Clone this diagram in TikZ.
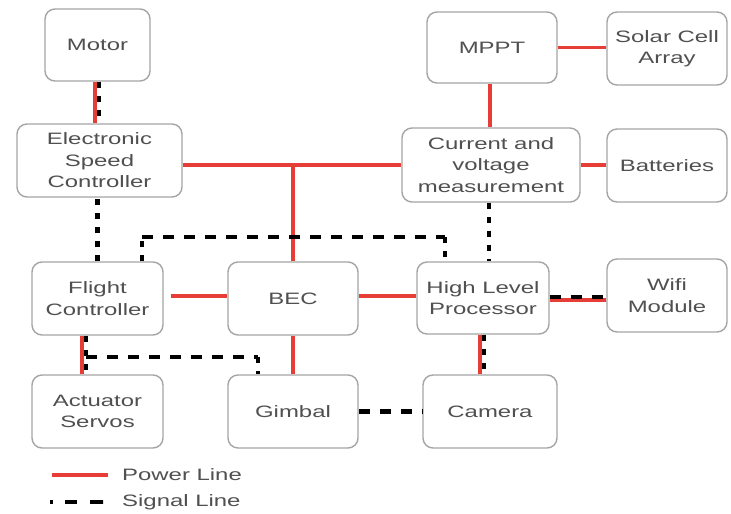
\documentclass[tikz,border=0pt]{standalone}
\usepackage{fontspec}
\setmainfont[FakeStretch=1.45]{Liberation Sans}
\usetikzlibrary{calc}
\definecolor{pwr}{RGB}{230,62,55}
\definecolor{txt}{RGB}{80,80,80}
\definecolor{brd}{RGB}{165,165,165}
\begin{document}
\begin{tikzpicture}[x=1pt,y=-1pt,
  blk/.style={draw=brd,line width=1.4pt,rounded corners=10pt,fill=white,
    text=txt,align=center,inner sep=0pt,
    font=\fontsize{16.5}{21.5}\selectfont},
  pline/.style={draw=pwr,line width=3.6pt},
  sigH/.style={draw=black,line width=4.3pt,dash pattern=on 11pt off 10pt},
  sigV/.style={draw=black,line width=4.8pt,dash pattern=on 6pt off 8pt},
  lgtxt/.style={text=txt,anchor=west,inner sep=0pt,font=\fontsize{16.5}{20}\selectfont}]
\useasboundingbox (0,0) rectangle (731,514);
\fill[white] (0,0) rectangle (731,514);
% blocks
\node[blk,minimum width=105pt,minimum height=72pt] (Motor) at (97.5,45) {Motor};
\node[blk,minimum width=165pt,minimum height=73pt] (ESC) at (99.5,160.5) {Electronic\\Speed\\Controller};
\node[blk,minimum width=130pt,minimum height=71pt] (MPPT) at (492,47.5) {MPPT};
\node[blk,minimum width=120pt,minimum height=73pt] (Solar) at (667,48.5) {Solar Cell\\Array};
\node[blk,minimum width=178pt,minimum height=74pt] (CV) at (491,165) {Current and\\voltage\\measurement};
\node[blk,minimum width=120pt,minimum height=73pt] (Bat) at (667,165.5) {Batteries};
\node[blk,minimum width=131pt,minimum height=73pt] (FC) at (97.5,298.5) {Flight\\Controller};
\node[blk,minimum width=130pt,minimum height=73pt] (BEC) at (293,298.5) {BEC};
\node[blk,minimum width=132pt,minimum height=72pt] (HLP) at (483,298) {High Level\\Processor};
\node[blk,minimum width=120pt,minimum height=73pt] (Wifi) at (667,295.5) {Wifi\\Module};
\node[blk,minimum width=131pt,minimum height=73pt] (Act) at (97.5,411.5) {Actuator\\Servos};
\node[blk,minimum width=130pt,minimum height=73pt] (Gim) at (293,411.5) {Gimbal};
\node[blk,minimum width=134pt,minimum height=73pt] (Cam) at (490,411.5) {Camera};
% helper coordinates
\coordinate (J) at (BEC.north |- CV.west);
\coordinate (L1) at ($(FC.north)+(44.5,0)$);
\coordinate (L2) at ($(L1)+(0,-24)$);
\coordinate (L4) at ($(HLP.north)+(-38,0)$);
\coordinate (L3) at (L4 |- L2);
\coordinate (G1) at ($(FC.south)+(-11.5,21)$);
\coordinate (G3) at ($(Gim.north)+(-35,0)$);
\coordinate (G2) at (G3 |- G1);
% power lines
\draw[pline] ($(Motor.south)+(-2.5,0)$) -- ($(ESC.north)+(-4.5,0)$);
\draw[pline] (CV.west) -- (CV.west -| ESC.east);
\draw[pline] (J) -- (BEC.north);
\draw[pline] (MPPT.east) -- (MPPT.east -| Solar.west);
\draw[pline] ($(MPPT.south)+(-2,0)$) -- ($(MPPT.south |- CV.north)+(-2,0)$);
\draw[pline] (CV.east) -- (CV.east -| Bat.west);
\draw[pline] ($(FC.east)+(7,-2.5)$) -- ($(BEC.west)+(0,-2.5)$);
\draw[pline] ($(BEC.east)+(0,-2.5)$) -- ($(HLP.west)+(0,-2)$);
\draw[pline] ($(HLP.east)+(0,2)$) -- ($(HLP.east -| Wifi.west)+(0,2)$);
\draw[pline] ($(HLP.south)+(-3,0)$) -- ($(HLP.south |- Cam.north)+(-3,0)$);
\draw[pline] (BEC.south) -- (Gim.north);
\draw[pline] ($(FC.south)+(-15.5,0)$) -- ($(Act.north)+(-15.5,0)$);
% signal lines
\draw[sigV] ($(Motor.south)+(1.5,0)$) -- ($(Motor.south |- ESC.north)+(1.5,0)$);
\draw[sigV] (FC.north) -- (FC.north |- ESC.south);
\draw[sigV] ($(CV.south)+(-2,0)$) -- ($(CV.south |- HLP.north)+(-2,0)$);
\draw[sigV] (L1) -- (L2);
\draw[sigH] (L2) -- (L3);
\draw[sigV] (L3) -- (L4);
\draw[sigH] ($(HLP.east)+(0,-1)$) -- ($(HLP.east -| Wifi.west)+(0,-1)$);
\draw[sigV] ($(HLP.south)+(1,0)$) -- ($(HLP.south |- Cam.north)+(1,0)$);
\draw[sigV] ($(FC.south)+(-11.5,0)$) -- ($(Act.north)+(-11.5,0)$);
\draw[sigH] (G1) -- (G2);
\draw[sigV] (G2) -- (G3);
\draw[sigH] (Gim.east) -- (Cam.west);
% legend
\coordinate (PA) at (52,475);
\coordinate (PB) at (108,475);
\coordinate (SA) at (50,502);
\coordinate (SB) at (103,502);
\draw[pline] (PA) -- (PB);
\draw[draw=black,line width=4.3pt,dash pattern=on 3pt off 12pt on 12pt off 13pt on 13pt off 0pt] (SA) -- (SB);
\node[lgtxt] (PL) at (122,475) {Power Line};
\node[lgtxt] (SL) at (122,502) {Signal Line};
\end{tikzpicture}
\end{document}
